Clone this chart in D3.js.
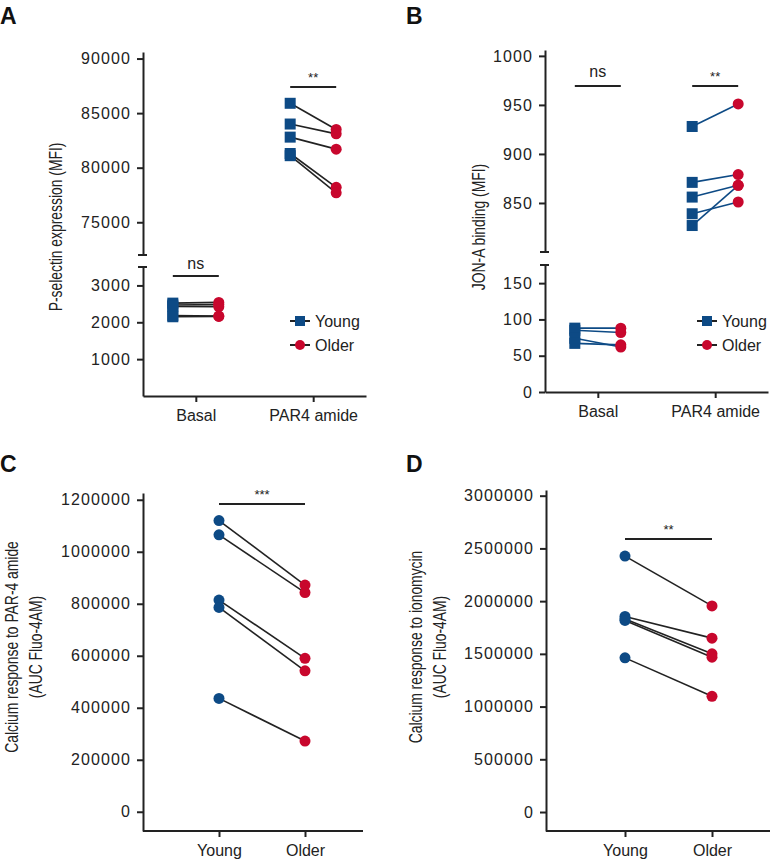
<!DOCTYPE html>
<html>
<head>
<meta charset="utf-8">
<script src="https://cdn.jsdelivr.net/npm/d3@7"></script>
<style>
  body { margin: 0; background: #fff; }
  svg { display: block; }
  .tick text { font-family: "Liberation Sans", Arial, sans-serif; }
</style>
</head>
<body>
<div id="wrapper"></div>
<script>
const BLUE = "#0d4a85";
const RED = "#c8072d";
const INK = "#222";

// ---- data ----
const stimGroups = ["Basal", "PAR4 amide"];
const ageGroups = ["Young", "Older"];

// A: P-selectin expression (MFI), paired young -> older
const pselBasalYoung = [2520, 2470, 2430, 2180, 2150];
const pselBasalOlder = [2540, 2480, 2420, 2170, 2160];
const pselPar4Young = [85900, 84000, 82800, 81300, 81100];
const pselPar4Older = [83500, 83100, 81700, 78200, 77700];

// B: JON-A binding (MFI)
const jonBasalYoung = [88, 85, 74, 67];
const jonBasalOlder = [88, 82, 62, 65];
const jonPar4Young = [928, 871, 856, 839, 827];
const jonPar4Older = [951, 879, 868, 851, 868];

// C: calcium response to PAR-4 amide
const caPar4Young = [1120000, 1065000, 814000, 786000, 436000];
const caPar4Older = [872000, 843000, 590000, 542000, 272000];

// D: calcium response to ionomycin
const caIonoYoung = [2427000, 1855000, 1830000, 1817000, 1462000];
const caIonoOlder = [1955000, 1649000, 1500000, 1468000, 1097000];

// tick values
const pselUpperTicks = [75000, 80000, 85000, 90000];
const pselLowerTicks = [1000, 2000, 3000];
const jonUpperTicks = [850, 900, 950, 1000];
const jonLowerTicks = [0, 50, 100, 150];
const caPar4Ticks = [0, 200000, 400000, 600000, 800000, 1000000, 1200000];
const caIonoTicks = [0, 500000, 1000000, 1500000, 2000000, 2500000, 3000000];

const pairs = (ys, os) => ys.map((y, i) => ({ young: y, older: os[i] }));

const svg = d3
  .select("#wrapper")
  .append("svg")
  .attr("width", 770)
  .attr("height", 864)
  .style("font-family", "'Liberation Sans', Arial, sans-serif");

const styleAxis = (g) => {
  g.select(".domain").attr("stroke", INK).attr("stroke-width", 2);
  g.selectAll(".tick line").attr("stroke", INK).attr("stroke-width", 2);
  g.selectAll(".tick text")
    .attr("fill", INK)
    .style("font-size", "16px");
};
// numbers on the y axes are a bit wider in the original
const wideNums = (g) => g.selectAll(".tick text").style("letter-spacing", "1.1px");

const panelLetter = (x, y, t) =>
  svg
    .append("text")
    .attr("x", x)
    .attr("y", y)
    .attr("font-weight", "bold")
    .style("font-size", "23px")
    .attr("fill", "#111")
    .text(t);

// condensed rotated label (no narrow font installed, so squeeze it)
const yLabel = (x, y, lines) => {
  const t = svg
    .append("text")
    .attr("transform", `translate(${x},${y}) rotate(-90) scale(0.73,1)`)
    .attr("text-anchor", "middle")
    .attr("fill", INK)
    .style("font-size", "19px");
  lines.forEach((l, i) => {
    t.append("tspan")
      .attr("x", 0)
      .attr("y", i * 24)
      .attr("dy", "0.35em")
      .text(l);
  });
};

const sigBar = (g, x0, x1, y, label, size, gap) => {
  g.append("line")
    .attr("x1", x0)
    .attr("x2", x1)
    .attr("y1", y)
    .attr("y2", y)
    .attr("stroke", INK)
    .attr("stroke-width", 2);
  g.append("text")
    .attr("x", (x0 + x1) / 2)
    .attr("y", y - gap)
    .attr("text-anchor", "middle")
    .attr("fill", INK)
    .style("font-size", size)
    .text(label);
};

const legend = (g, x, y) => {
  ageGroups.forEach((name, i) => {
    const yy = y + i * 24;
    g.append("line")
      .attr("x1", x - 10)
      .attr("x2", x + 10)
      .attr("y1", yy)
      .attr("y2", yy)
      .attr("stroke", INK)
      .attr("stroke-width", 2);
    if (i === 0) {
      g.append("rect")
        .attr("x", x - 5)
        .attr("y", yy - 5)
        .attr("width", 10)
        .attr("height", 10)
        .attr("fill", BLUE);
    } else {
      g.append("circle").attr("cx", x).attr("cy", yy).attr("r", 5).attr("fill", RED);
    }
    g.append("text")
      .attr("x", x + 15)
      .attr("y", yy)
      .attr("dy", "0.36em")
      .attr("fill", INK)
      .style("font-size", "16px")
      .text(name);
  });
};

// ---- broken-axis panels (A, B) ----
function brokenPanel(opt) {
  const g = svg.append("g").attr("transform", `translate(${opt.left},0)`);
  const width = opt.width;

  const x = d3.scalePoint().domain(stimGroups).range([0, width]).padding(0.45);
  const upper = d3.scaleLinear().domain(opt.upperDomain).range(opt.upperRange);
  const lower = d3.scaleLinear().domain(opt.lowerDomain).range(opt.lowerRange);
  const yOf = (v) => (v >= opt.upperDomain[0] ? upper(v) : lower(v));

  g.append("g")
    .call(d3.axisLeft(upper).tickValues(opt.upperTicks).tickSize(6).tickPadding(6).tickSizeOuter(0).tickFormat(d3.format("d")))
    .call(styleAxis)
    .call(wideNums);
  g.append("g")
    .call(d3.axisLeft(lower).tickValues(opt.lowerTicks).tickSize(6).tickPadding(6).tickSizeOuter(0).tickFormat(d3.format("d")))
    .call(styleAxis)
    .call(wideNums);
  // break caps
  [opt.upperRange[0], opt.lowerRange[1]].forEach((yy) => {
    g.append("line")
      .attr("x1", -5)
      .attr("x2", 4)
      .attr("y1", yy)
      .attr("y2", yy)
      .attr("stroke", INK)
      .attr("stroke-width", 2);
  });

  g.append("g")
    .attr("transform", `translate(0,${opt.lowerRange[0]})`)
    .call(d3.axisBottom(x).tickSize(6).tickPadding(8).tickSizeOuter(0))
    .call(styleAxis);

  const off = 23;
  opt.sets.forEach((set) => {
    const cx = x(set.group);
    const data = pairs(set.young, set.older);
    g.selectAll(null)
      .data(data)
      .join("line")
      .attr("x1", cx - off)
      .attr("x2", cx + off)
      .attr("y1", (d) => yOf(d.young))
      .attr("y2", (d) => yOf(d.older))
      .attr("stroke", opt.lineColor)
      .attr("stroke-width", 1.6);
    g.selectAll(null)
      .data(data)
      .join("rect")
      .attr("x", cx - off - 5.5)
      .attr("y", (d) => yOf(d.young) - 5.5)
      .attr("width", 11)
      .attr("height", 11)
      .attr("fill", BLUE);
    g.selectAll(null)
      .data(data)
      .join("circle")
      .attr("cx", cx + off)
      .attr("cy", (d) => yOf(d.older))
      .attr("r", 5.5)
      .attr("fill", RED);
  });

  opt.sig.forEach((s) => {
    const cx = x(s.group);
    sigBar(g, cx - off, cx + off, s.y, s.label, s.size, s.gap);
  });
  legend(g, opt.legendX, opt.legendY);
  return g;
}

panelLetter(0, 24, "A");
brokenPanel({
  left: 143,
  width: 223,
  upperDomain: [72000, 90600],
  upperRange: [255, 52],
  lowerDomain: [0, 3500],
  lowerRange: [396, 267],
  upperTicks: pselUpperTicks,
  lowerTicks: pselLowerTicks,
  lineColor: INK,
  sets: [
    { group: "Basal", young: pselBasalYoung, older: pselBasalOlder },
    { group: "PAR4 amide", young: pselPar4Young, older: pselPar4Older },
  ],
  sig: [
    { group: "Basal", y: 276, label: "ns", size: "16px", gap: 7 },
    { group: "PAR4 amide", y: 87, label: "**", size: "13px", gap: 5 },
  ],
  legendX: 157,
  legendY: 321,
});
yLabel(55, 227, ["P-selectin expression (MFI)"]);

panelLetter(406, 24, "B");
brokenPanel({
  left: 545,
  width: 223,
  upperDomain: [800, 1006],
  upperRange: [252, 50],
  lowerDomain: [0, 175],
  lowerRange: [392, 265],
  upperTicks: jonUpperTicks,
  lowerTicks: jonLowerTicks,
  lineColor: BLUE,
  sets: [
    { group: "Basal", young: jonBasalYoung, older: jonBasalOlder },
    { group: "PAR4 amide", young: jonPar4Young, older: jonPar4Older },
  ],
  sig: [
    { group: "Basal", y: 86, label: "ns", size: "16px", gap: 9 },
    { group: "PAR4 amide", y: 86, label: "**", size: "13px", gap: 5 },
  ],
  legendX: 162,
  legendY: 321,
});
yLabel(478, 227, ["JON-A binding (MFI)"]);

// ---- simple paired panels (C, D) ----
function pairedPanel(opt) {
  const g = svg.append("g").attr("transform", `translate(${opt.left},0)`);
  const x = d3.scalePoint().domain(ageGroups).range(opt.xRange);
  const y = d3.scaleLinear().domain(opt.yDomain).range([opt.bottom, opt.top]);

  g.append("g")
    .call(d3.axisLeft(y).tickValues(opt.ticks).tickSize(6).tickPadding(6).tickSizeOuter(0).tickFormat(d3.format("d")))
    .call(styleAxis)
    .call(wideNums);
  g.append("g")
    .attr("transform", `translate(0,${opt.bottom})`)
    .call(d3.axisBottom(x).tickSize(6).tickPadding(8).tickSizeOuter(0))
    .call(styleAxis)
    .select(".domain")
    .attr("d", `M0,0H${opt.width}`);

  const data = pairs(opt.young, opt.older);
  g.selectAll(null)
    .data(data)
    .join("line")
    .attr("x1", x("Young"))
    .attr("x2", x("Older"))
    .attr("y1", (d) => y(d.young))
    .attr("y2", (d) => y(d.older))
    .attr("stroke", INK)
    .attr("stroke-width", 1.6);
  g.selectAll(null)
    .data(data)
    .join("circle")
    .attr("cx", x("Young"))
    .attr("cy", (d) => y(d.young))
    .attr("r", 5.5)
    .attr("fill", BLUE);
  g.selectAll(null)
    .data(data)
    .join("circle")
    .attr("cx", x("Older"))
    .attr("cy", (d) => y(d.older))
    .attr("r", 5.5)
    .attr("fill", RED);

  sigBar(g, x("Young"), x("Older"), opt.sigY, opt.sigLabel, "13px", 5);
}

panelLetter(0, 472, "C");
pairedPanel({
  left: 143,
  width: 220,
  top: 493,
  bottom: 831,
  xRange: [76, 162],
  yDomain: [-74000, 1226000],
  ticks: caPar4Ticks,
  young: caPar4Young,
  older: caPar4Older,
  sigY: 504,
  sigLabel: "***",
});
yLabel(11, 647, ["Calcium response to PAR-4 amide", "(AUC Fluo-4AM)"]);

panelLetter(406, 472, "D");
pairedPanel({
  left: 546,
  width: 224,
  top: 490,
  bottom: 831,
  xRange: [79, 166],
  yDomain: [-180000, 3054000],
  ticks: caIonoTicks,
  young: caIonoYoung,
  older: caIonoOlder,
  sigY: 539,
  sigLabel: "**",
});
yLabel(415, 647, ["Calcium response to ionomycin", "(AUC Fluo-4AM)"]);
</script>
</body>
</html>
